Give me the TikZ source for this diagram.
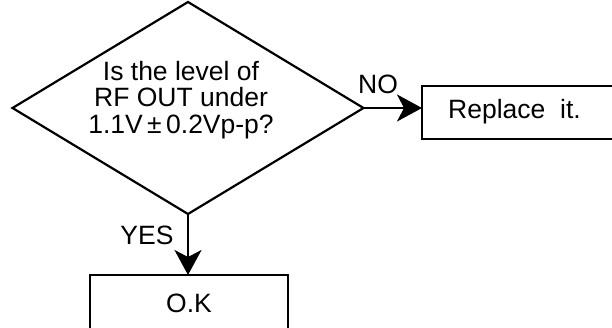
\documentclass[tikz,border=0pt]{standalone}
\usepackage{fontspec}
\setmainfont{Liberation Sans}
\usetikzlibrary{shapes.geometric,arrows.meta}
\begin{document}
\begin{tikzpicture}[x=1pt,y=-1pt,
  lbl/.style={font=\fontsize{26.5}{26.5}\selectfont, inner sep=0pt},
  shapeline/.style={draw=black, line width=2.2pt},
  arr/.style={line width=2.2pt, -{Stealth[length=25pt,width=27pt,inset=7pt]}}]
\useasboundingbox (0,0) rectangle (612,328);
\clip (0,0) rectangle (612,328);
\fill[white] (0,0) rectangle (612,328);
\node[shapeline, diamond, minimum width=351pt, minimum height=212pt, inner sep=0pt, outer sep=0pt] (dia) at (188,108) {};
\node[lbl, align=center] (q) at (181,100) {Is the level of\\RF OUT under\\1.1V\,±\,0.2Vp-p?};
\node[shapeline, rectangle, minimum width=230pt, minimum height=53pt, inner sep=0pt, outer sep=0pt] (rep) at (537,112.5) {};
\node[lbl, anchor=base west] (rept) at (448,119) {Replace\ \ it.};
\node[shapeline, rectangle, minimum width=198pt, minimum height=66pt, inner sep=0pt, outer sep=0pt] (ok) at (189,308) {};
\node[lbl, anchor=base] (okt) at (189,312) {O.K};
\node[lbl, anchor=base] (no) at (378,94) {NO};
\node[lbl, anchor=base] (yes) at (147,245) {YES};
\draw[arr] (dia.east) -- (dia.east -| rep.west);
\draw[arr] (dia.south) -- (dia.south |- ok.north);
\end{tikzpicture}
\end{document}
